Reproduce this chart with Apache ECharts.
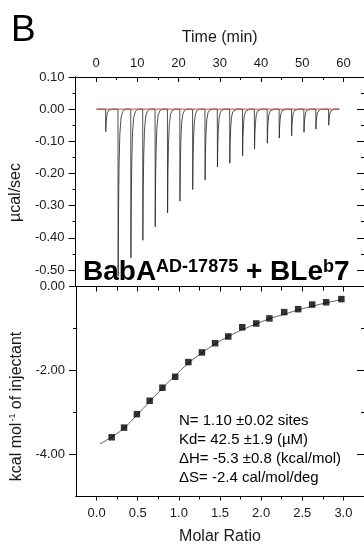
<!DOCTYPE html>
<html>
<head>
<meta charset="utf-8">
<script src="https://cdn.jsdelivr.net/npm/echarts@6/dist/echarts.min.js"></script>
<style>
html,body{margin:0;padding:0;background:#fff;}
#chart{width:364px;height:546px;}
</style>
</head>
<body>
<div id="chart"></div>
<script>
// ---- Data ----
// Thermogram (top panel)
const injectionTimes = [2.3, 5.3, 8.4, 11.3, 14.3, 17.3, 20.3, 23.4, 26.4, 29.4, 32.4, 35.5, 38.4, 41.5, 44.4, 47.4, 50.4, 53.3, 56.4];
const peakMinima     = [-0.07, -0.52, -0.462, -0.408, -0.366, -0.323, -0.286, -0.25, -0.22, -0.18, -0.168, -0.145, -0.124, -0.106, -0.09, -0.083, -0.072, -0.062, -0.05];
// peak profile: [minutes after injection, fraction of peak depth]
const peakProfile = [[0, 0], [0.04, 1], [0.12, 0.62], [0.26, 0.34], [0.45, 0.15], [0.75, 0.05], [1.15, 0.015], [1.7, 0]];
const baselineTimes = [0.1, 59];
const timeStart = 0.1, timeEnd = 59;

// Integrated heats (bottom panel)
const molarRatio = [0.183, 0.334, 0.49, 0.645, 0.80, 0.955, 1.115, 1.28, 1.44, 1.60, 1.77, 1.94, 2.10, 2.28, 2.45, 2.62, 2.79, 2.975];
const heatPerMol = [-3.59, -3.36, -3.04, -2.72, -2.41, -2.15, -1.80, -1.57, -1.35, -1.19, -0.97, -0.88, -0.76, -0.61, -0.54, -0.43, -0.376, -0.30];
// fitted curve
const fitRatio = [0.04, 0.183, 0.334, 0.49, 0.645, 0.80, 0.955, 1.115, 1.28, 1.44, 1.60, 1.77, 1.94, 2.10, 2.28, 2.45, 2.62, 2.79, 2.975];
const fitHeat  = [-3.75, -3.58, -3.37, -3.06, -2.74, -2.42, -2.12, -1.83, -1.58, -1.37, -1.19, -1.03, -0.89, -0.77, -0.66, -0.56, -0.47, -0.39, -0.31];

// Tick values
const timeMajor = [0, 10, 20, 30, 40, 50, 60];
const timeMinor = [5, 15, 25, 35, 45, 55];
const powerMajor = [0.10, 0.00, -0.10, -0.20, -0.30, -0.40, -0.50];
const powerMinor = [0.05, -0.05, -0.15, -0.25, -0.35, -0.45];
const ratioMajor = [0, 0.5, 1.0, 1.5, 2.0, 2.5, 3.0];
const ratioMinor = [0.25, 0.75, 1.25, 1.75, 2.25, 2.75];
const heatMajor = [0, -2, -4];
const heatMinor = [-1, -3];

// ---- Build series data ----
const thermo = [[timeStart, 0]];
injectionTimes.forEach((t, i) => {
  peakProfile.forEach(p => thermo.push([t + p[0], peakMinima[i] * p[1]]));
});
thermo.push([timeEnd, 0]);
const baseline = baselineTimes.map(t => [t, 0]);
const points = molarRatio.map((r, i) => [r, heatPerMol[i]]);
const fit = fitRatio.map((r, i) => [r, fitHeat[i]]);

const FONT = '"Liberation Sans", Arial, Helvetica, sans-serif';
const TXT = '#1a1a1a';
const line = {show: true, onZero: false, lineStyle: {color: '#000', width: 1}};

function axis(grid, pos, min, max, ticks, len, inside, labels, fmt, extra, margin) {
  return Object.assign({
    type: 'value', gridIndex: grid, position: pos, min: min, max: max,
    axisLine: line, splitLine: {show: false},
    axisTick: {show: true, customValues: ticks, length: len, inside: inside, lineStyle: {color: '#000', width: 1}},
    axisLabel: labels ? {show: true, customValues: labels, formatter: fmt, fontSize: 13, color: TXT, fontFamily: FONT, margin: margin || 7} : {show: false}
  }, extra || {});
}

const option = {
  animation: false,
  backgroundColor: '#fff',
  textStyle: {fontFamily: FONT},
  grid: [
    {left: 75, top: 77, width: 293, height: 209},
    {left: 75, top: 286.5, width: 293, height: 210}
  ],
  xAxis: [
    axis(0, 'top', -5, 65, timeMajor, 5, true, timeMajor, v => String(v), {
      name: 'Time (min)', nameLocation: 'middle', nameGap: 31,
      nameTextStyle: {fontSize: 16, color: TXT, fontFamily: FONT}
    }, 7),
    axis(0, 'top', -5, 65, timeMinor, 3, true, null, null),
    {type: 'value', gridIndex: 0, position: 'bottom', min: -5, max: 65, axisLine: line, axisTick: {show: false}, axisLabel: {show: false}, splitLine: {show: false}},
    axis(1, 'bottom', -0.25, 3.25, ratioMajor, 4, false, ratioMajor, v => v.toFixed(1), {
      name: 'Molar Ratio', nameLocation: 'middle', nameGap: 32,
      nameTextStyle: {fontSize: 16, color: TXT, fontFamily: FONT}
    }, 10),
    axis(1, 'bottom', -0.25, 3.25, ratioMinor, 3, false, null, null),
    axis(1, 'top', -0.25, 3.25, ratioMajor, 5, true, null, null),
    axis(1, 'top', -0.25, 3.25, ratioMinor, 4, true, null, null)
  ],
  yAxis: [
    axis(0, 'left', -0.55, 0.10, powerMajor, 7, false, powerMajor, v => v.toFixed(2), {
      name: 'µcal/sec', nameLocation: 'middle', nameGap: 42, nameRotate: 90,
      nameTextStyle: {fontSize: 16, color: TXT, fontFamily: FONT, padding: [0, 22, 0, 0]}
    }, 11),
    axis(0, 'left', -0.55, 0.10, powerMinor, 3, false, null, null),
    axis(0, 'right', -0.55, 0.10, powerMajor, 7, true, null, null),
    axis(0, 'right', -0.55, 0.10, powerMinor, 3, true, null, null),
    axis(1, 'left', -5, 0, heatMajor, 7, false, heatMajor, v => v.toFixed(2), {
      name: '{t|kcal mol}{s|-1}{t| of injectant}', nameLocation: 'middle', nameGap: 44, nameRotate: 90,
      nameTextStyle: {fontSize: 16, color: TXT, fontFamily: FONT, padding: [0, 30, 0, 0],
        rich: {t: {fontSize: 16, color: TXT, fontFamily: FONT}, s: {fontSize: 9, color: TXT, fontFamily: FONT, verticalAlign: 'top', padding: [0, 0, 8, 1]}}}
    }, 11),
    axis(1, 'left', -5, 0, heatMinor, 3, false, null, null),
    axis(1, 'right', -5, 0, heatMajor, 7, true, null, null),
    axis(1, 'right', -5, 0, heatMinor, 3, true, null, null)
  ],
  series: [
    {type: 'line', xAxisIndex: 0, yAxisIndex: 0, data: thermo, symbol: 'none', z: 2,
     lineStyle: {color: '#222', width: 0.8}},
    {type: 'line', xAxisIndex: 0, yAxisIndex: 0, data: baseline, symbol: 'none', z: 3,
     lineStyle: {color: '#e8383d', width: 1}},
    {type: 'line', xAxisIndex: 3, yAxisIndex: 4, data: fit, symbol: 'none', smooth: true, z: 2,
     lineStyle: {color: '#333', width: 0.8}},
    {type: 'scatter', xAxisIndex: 3, yAxisIndex: 4, data: points, symbol: 'rect', symbolSize: 6.5, z: 3,
     itemStyle: {color: '#000'}}
  ],
  graphic: [
    {type: 'text', left: 11, top: 12, z: 10,
     style: {text: 'B', font: '37px ' + FONT, fill: '#000'}},
    {type: 'text', z: 10, x: 83, y: 256,
     style: {
       text: '{b|BabA}{s|AD-17875}{b| + BLe}{s|b}{b|7}',
       verticalAlign: 'top',
       rich: {
         b: {fontSize: 28, fontWeight: 'bold', fontFamily: FONT, fill: '#000', lineHeight: 30, verticalAlign: 'bottom'},
         s: {fontSize: 18, fontWeight: 'bold', fontFamily: FONT, fill: '#000', lineHeight: 18, verticalAlign: 'top', padding: [2, 0, 0, 0]}
       }
     }},
    {type: 'text', z: 10, x: 179, y: 411,
     style: {
       text: 'N= 1.10 ±0.02 sites\nKd= 42.5 ±1.9 (µM)\nΔH= -5.3 ±0.8 (kcal/mol)\nΔS= -2.4 cal/mol/deg',
       font: '15px ' + FONT, fill: '#000', lineHeight: 19, verticalAlign: 'top'
     }}
  ]
};

const chart = echarts.init(document.getElementById('chart'), null, {renderer: 'canvas'});
chart.setOption(option);
</script>
</body>
</html>
